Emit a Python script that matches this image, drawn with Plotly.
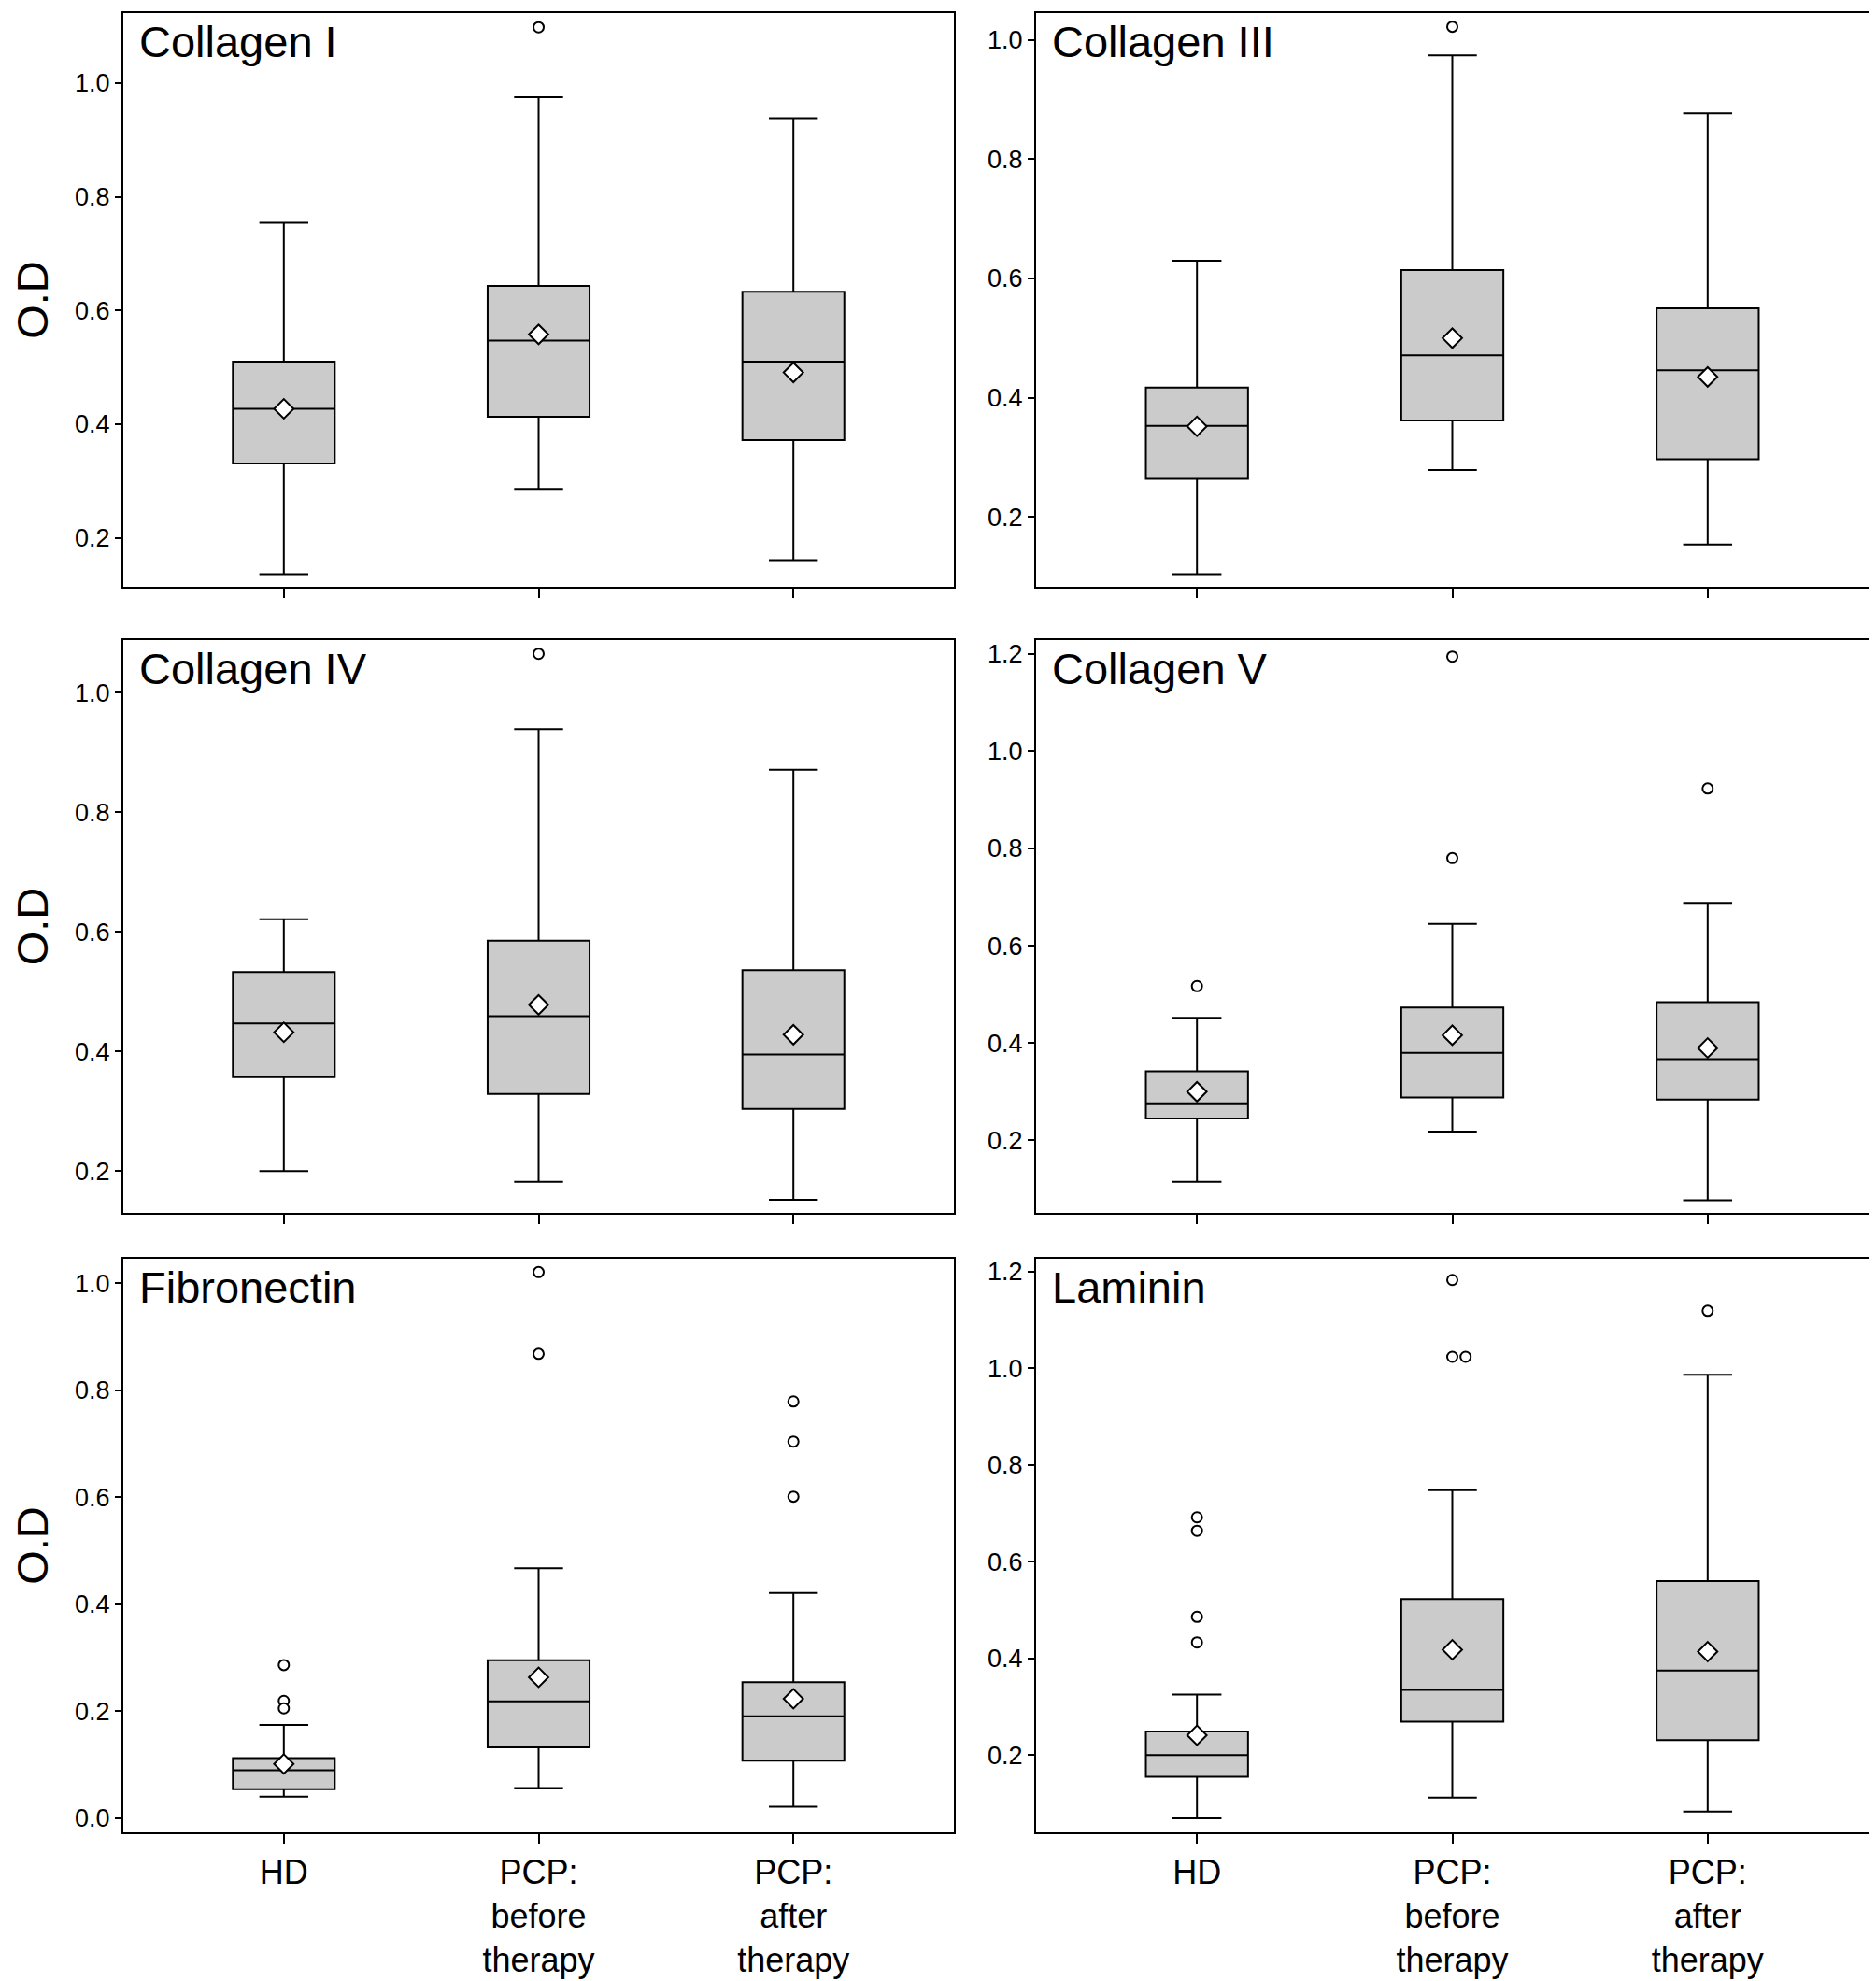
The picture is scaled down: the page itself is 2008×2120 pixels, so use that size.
import plotly.graph_objects as go

# ---------------- data ----------------
categories = ["HD", "PCP: before therapy", "PCP: after therapy"]
tick_labels = ["HD", "PCP:<br>before<br>therapy", "PCP:<br>after<br>therapy"]
panels = ["Collagen I", "Collagen III", "Collagen IV", "Collagen V", "Fibronectin", "Laminin"]

lower_whisker = {
    "Collagen I":   [0.136, 0.286, 0.161],
    "Collagen III": [0.104, 0.279, 0.154],
    "Collagen IV":  [0.200, 0.182, 0.152],
    "Collagen V":   [0.115, 0.218, 0.077],
    "Fibronectin":  [0.040, 0.056, 0.021],
    "Laminin":      [0.069, 0.112, 0.083],
}
q1 = {
    "Collagen I":   [0.331, 0.413, 0.372],
    "Collagen III": [0.264, 0.362, 0.297],
    "Collagen IV":  [0.357, 0.329, 0.304],
    "Collagen V":   [0.245, 0.288, 0.284],
    "Fibronectin":  [0.054, 0.132, 0.107],
    "Laminin":      [0.155, 0.269, 0.231],
}
median = {
    "Collagen I":   [0.427, 0.547, 0.510],
    "Collagen III": [0.353, 0.471, 0.446],
    "Collagen IV":  [0.447, 0.459, 0.395],
    "Collagen V":   [0.276, 0.380, 0.367],
    "Fibronectin":  [0.089, 0.218, 0.190],
    "Laminin":      [0.200, 0.335, 0.375],
}
q3 = {
    "Collagen I":   [0.510, 0.643, 0.633],
    "Collagen III": [0.417, 0.614, 0.550],
    "Collagen IV":  [0.533, 0.585, 0.536],
    "Collagen V":   [0.342, 0.473, 0.484],
    "Fibronectin":  [0.112, 0.295, 0.254],
    "Laminin":      [0.249, 0.523, 0.560],
}
upper_whisker = {
    "Collagen I":   [0.754, 0.975, 0.938],
    "Collagen III": [0.630, 0.974, 0.877],
    "Collagen IV":  [0.621, 0.939, 0.871],
    "Collagen V":   [0.452, 0.645, 0.688],
    "Fibronectin":  [0.174, 0.467, 0.421],
    "Laminin":      [0.325, 0.748, 0.987],
}
mean = {
    "Collagen I":   [0.427, 0.558, 0.491],
    "Collagen III": [0.352, 0.500, 0.435],
    "Collagen IV":  [0.432, 0.478, 0.428],
    "Collagen V":   [0.300, 0.416, 0.390],
    "Fibronectin":  [0.101, 0.263, 0.223],
    "Laminin":      [0.241, 0.418, 0.414],
}
outliers = {
    "Collagen I":   [[], [1.098], []],
    "Collagen III": [[], [1.022], []],
    "Collagen IV":  [[], [1.065], []],
    "Collagen V":   [[0.517], [1.194, 0.780], [0.923]],
    "Fibronectin":  [[0.286, 0.219, 0.205], [1.021, 0.868], [0.779, 0.704, 0.601]],
    "Laminin":      [[0.692, 0.664, 0.486, 0.433], [1.183, 1.024, 1.024], [1.119]],
}
y_ranges = {
    "Collagen I":   [0.114, 1.123],
    "Collagen III": [0.083, 1.045],
    "Collagen IV":  [0.130, 1.088],
    "Collagen V":   [0.051, 1.228],
    "Fibronectin":  [-0.027, 1.046],
    "Laminin":      [0.040, 1.227],
}

# ---------------- layout geometry ----------------
W, H = 2008, 2120
col_px = [(124, 1013), (1101, 1992)]
row_px = [(6, 620), (677, 1290), (1339, 1953)]
FONT = "Liberation Sans, Arial, sans-serif"

fig = go.Figure()
layout = {}
xpos = list(range(len(categories)))

for i, name in enumerate(panels):
    r, c = divmod(i, 2)
    sfx = "" if i == 0 else str(i + 1)
    xa, ya = "x" + sfx, "y" + sfx

    fig.add_trace(go.Box(
        x=xpos, q1=q1[name], median=median[name], q3=q3[name],
        lowerfence=lower_whisker[name], upperfence=upper_whisker[name],
        xaxis=xa, yaxis=ya, width=0.4, whiskerwidth=0.48,
        fillcolor="#cbcbcb", line=dict(color="black", width=2),
        boxpoints=False, showlegend=False, hoverinfo="skip",
    ))

    # outliers (duplicates nudged sideways as in the reference)
    ox, oy = [], []
    for k, vals in enumerate(outliers[name]):
        seen = {}
        for v in vals:
            n = seen.get(v, 0)
            seen[v] = n + 1
            ox.append(k + 0.052 * n)
            oy.append(v)
    if ox:
        fig.add_trace(go.Scatter(
            x=ox, y=oy, mode="markers", xaxis=xa, yaxis=ya,
            marker=dict(symbol="circle", size=11, color="white",
                        line=dict(color="black", width=2)),
            showlegend=False, hoverinfo="skip",
        ))

    fig.add_trace(go.Scatter(
        x=xpos, y=mean[name], mode="markers", xaxis=xa, yaxis=ya,
        marker=dict(symbol="diamond", size=16, color="white",
                    line=dict(color="black", width=2)),
        showlegend=False, hoverinfo="skip",
    ))

    x0, x1 = col_px[c]
    y0, y1 = row_px[r]
    layout["xaxis" + sfx] = dict(
        domain=[x0 / W, x1 / W], anchor=ya, range=[-0.63, 2.63],
        tickmode="array", tickvals=xpos, ticktext=tick_labels,
        showticklabels=(r == 2), ticks="outside", ticklen=10, tickwidth=2,
        tickcolor="black", showline=True, mirror=True, linewidth=2,
        linecolor="black", showgrid=False, zeroline=False,
        tickfont=dict(size=36, color="black", family=FONT),
    )
    yax = dict(
        domain=[1 - y1 / H, 1 - y0 / H], anchor=xa, range=y_ranges[name],
        tick0=0, dtick=0.2, tickformat=".1f", ticks="outside", ticklen=7,
        tickwidth=2, tickcolor="black", showline=True, mirror=True,
        linewidth=2, linecolor="black", showgrid=False, zeroline=False,
        tickfont=dict(size=27, color="black", family=FONT),
    )
    if c == 0:
        yax["title"] = dict(text="O.D", font=dict(size=47, color="black", family=FONT),
                            standoff=16)
    layout["yaxis" + sfx] = yax

    fig.add_annotation(
        text=name, xref=xa + " domain", yref=ya + " domain",
        x=0.017, y=1.0, yshift=-2, xanchor="left", yanchor="top", showarrow=False,
        font=dict(size=47, color="black", family=FONT),
    )

fig.update_layout(
    width=W, height=H, margin=dict(l=0, r=0, t=0, b=0),
    paper_bgcolor="white", plot_bgcolor="white",
    font=dict(family=FONT, color="black"),
    **layout,
)

fig.write_html("out.html")
